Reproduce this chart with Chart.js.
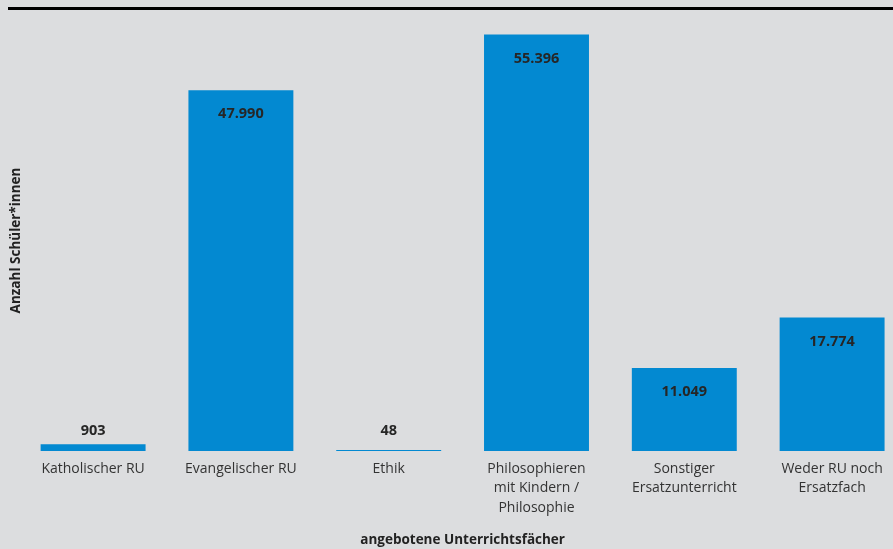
<!DOCTYPE html>
<html>
<head>
<meta charset="utf-8">
<script src="https://cdn.jsdelivr.net/npm/chart.js@4"></script>
<style>
    html, body { margin: 0; padding: 0; background: #dcdddf; overflow: hidden; }
    #wrap { position: relative; width: 893px; height: 549px; overflow: hidden; }
    #topline { position: absolute; left: 8px; top: 7px; width: 885px; height: 3px; background: #000; }
    canvas { position: absolute; left: 0; top: 0; }
</style>
</head>
<body>
<div id="wrap">
    <div id="topline"></div>
    <canvas id="chart" width="906" height="549"></canvas>
</div>
<script>
// Kategorien (x-Achse)
const faecher = [
    "Katholischer RU",
    "Evangelischer RU",
    "Ethik",
    ["Philosophieren", "mit Kindern /", "Philosophie"],
    ["Sonstiger", "Ersatzunterricht"],
    ["Weder RU noch", "Ersatzfach"]
];
// Anzahl Schüler*innen
const anzahl = [903, 47990, 48, 55396, 11049, 17774];

const xTitel = "angebotene Unterrichtsfächer";
const yTitel = "Anzahl Schüler*innen";

// Zahl im deutschen Format (Tausenderpunkt)
function formatDe(n) {
    return String(n).replace(/\B(?=(\d{3})+(?!\d))/g, ".");
}

// eigene Beschriftung der Balken
const barLabels = {
    id: 'barLabels',
    afterDatasetsDraw(chart) {
        const ctx = chart.ctx;
        const meta = chart.getDatasetMeta(0);
        ctx.save();
        ctx.font = 'bold 14.5px "Open Sans"';
        ctx.fillStyle = '#262626';
        ctx.textAlign = 'center';
        ctx.textBaseline = 'middle';
        meta.data.forEach((bar, i) => {
            const h = bar.base - bar.y;
            let y;
            if (h >= 40) {
                y = bar.y + 24;
            } else {
                y = bar.base - 20;
            }
            ctx.fillText(formatDe(anzahl[i]), bar.x, y);
        });
        ctx.restore();
    }
};

new Chart(document.getElementById('chart'), {
    type: 'bar',
    data: {
        labels: faecher,
        datasets: [{
            data: anzahl,
            backgroundColor: '#0389d1',
            borderWidth: 0,
            minBarLength: 1,
            barPercentage: 0.71,
            categoryPercentage: 1
        }]
    },
    options: {
        responsive: false,
        animation: false,
        layout: {
            padding: { left: 8, right: 0, top: 30, bottom: 0 }
        },
        plugins: {
            legend: { display: false },
            tooltip: { enabled: false }
        },
        scales: {
            x: {
                grid: { display: false, drawTicks: false },
                border: { display: false },
                ticks: {
                    color: '#333',
                    padding: 8,
                    maxRotation: 0,
                    autoSkip: false,
                    font: { family: '"Open Sans"', size: 14, lineHeight: 1.4 }
                },
                title: {
                    display: true,
                    text: xTitel,
                    color: '#222',
                    padding: { top: 6, bottom: 1 },
                    font: { family: '"Open Sans"', size: 13.5, weight: 'bold' }
                }
            },
            y: {
                min: 0,
                max: 56000,
                grid: { display: false, drawTicks: false },
                border: { display: false },
                ticks: { display: false },
                title: {
                    display: true,
                    text: yTitel,
                    color: '#222',
                    padding: { top: 0, bottom: -5 },
                    font: { family: '"Open Sans"', size: 13.5, weight: 'bold' }
                }
            }
        }
    },
    plugins: [barLabels]
});
</script>
</body>
</html>
